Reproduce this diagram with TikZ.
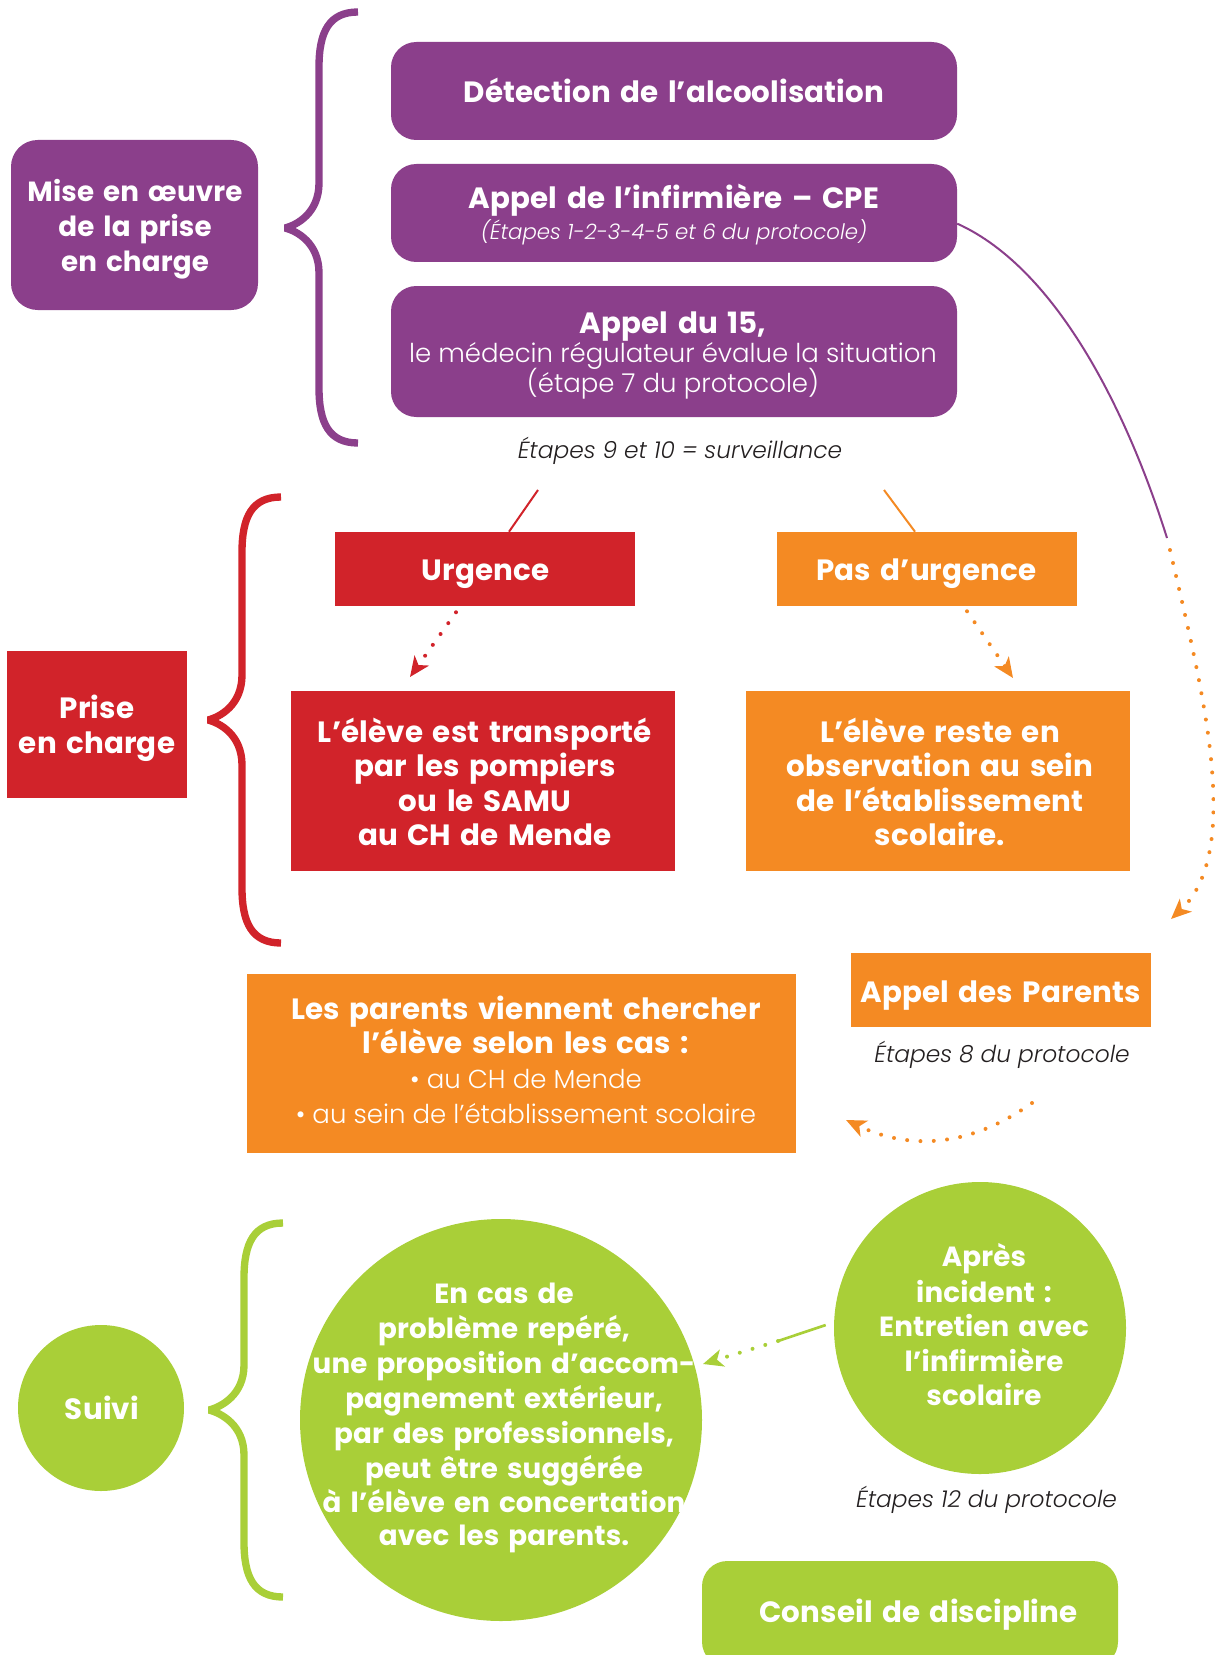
\documentclass[tikz,border=0pt]{standalone}
\usepackage{fontspec}
\usetikzlibrary{arrows.meta,calc}
\setmainfont{Poppins}
\newfontfamily\boldfam{Poppins}[LetterSpace=0.5, WordSpace=1.5]
\IfFontExistsTF{Poppins Light}{\newfontfamily\lightfam{Poppins Light}}{\newfontfamily\lightfam{Poppins}}
\definecolor{pur}{HTML}{8B3F8B}
\definecolor{rd}{HTML}{D1232A}
\definecolor{og}{HTML}{F48A23}
\definecolor{gr}{HTML}{A9CF38}
\definecolor{ink}{HTML}{231F20}
\newcommand\ftb{\boldfam\bfseries\fontsize{22}{26}\selectfont}
\newcommand\ftbs{\boldfam\bfseries\fontsize{20.8}{26}\selectfont}
\newcommand\ftl{\lightfam\fontsize{19.5}{23}\selectfont}
\newcommand\ftit{\lightfam\itshape\fontsize{17.5}{20}\selectfont}
\newcommand\ftsub{\lightfam\itshape\fontsize{16}{18}\selectfont}
\tikzset{
  pbox/.style={fill=pur, rounded corners=19pt, inner sep=0pt},
  rbox/.style={fill=rd, inner sep=0pt},
  obox/.style={fill=og, inner sep=0pt},
  gcirc/.style={circle, fill=gr, inner sep=0pt},
  gbox/.style={fill=gr, rounded corners=19pt, inner sep=0pt},
  wt/.style={text=white, inner sep=0pt, anchor=base, font=\ftb},
  ws/.style={wt, font=\ftbs},
  wl/.style={text=white, inner sep=0pt, anchor=base, font=\ftl},
  lab/.style={text=ink, inner sep=0pt, anchor=base, font=\ftit},
  brace/.style={line width=5.5pt, line join=bevel},
  dots/.style={line width=3pt, line cap=round, dash pattern=on 0pt off 10pt},
  arrowtip/.style={-{Stealth[length=15pt,width=13pt,inset=4pt]}},
  thin/.style={line width=1.5pt}
}
\begin{document}
\begin{tikzpicture}[x=0.75pt,y=-0.75pt]
\useasboundingbox (0,0) rectangle (1214,1655);

% ---------- braces ----------
\draw[pur, brace] (358,12) .. controls (329,12) and (319,32) .. (319,67) -- (319,183)
  .. controls (319,213) and (297,225) .. (285,228) .. controls (297,231) and (319,243) .. (319,273)
  -- (319,388) .. controls (319,423) and (329,443) .. (358,443);
\draw[rd, brace] (281,497) .. controls (252,497) and (242,517) .. (242,552) -- (242,675)
  .. controls (242,705) and (220,717) .. (208,720) .. controls (220,723) and (242,735) .. (242,765)
  -- (242,888) .. controls (242,923) and (252,943) .. (281,943);
\draw[gr, brace] (283,1223) .. controls (254,1223) and (244,1243) .. (244,1278) -- (244,1365)
  .. controls (244,1395) and (221,1407) .. (209,1410) .. controls (221,1413) and (244,1425) .. (244,1455)
  -- (244,1542) .. controls (244,1577) and (254,1597) .. (283,1597);

% ---------- shapes ----------
\node[pbox, rounded corners=20pt, minimum width=185.25pt, minimum height=127.5pt] (mise) at (134.5,225) {};
\node[pbox, minimum width=424.5pt, minimum height=73.5pt] (det) at (674,91) {};
\node[pbox, minimum width=424.5pt, minimum height=73.5pt] (ainf) at (674,213) {};
\node[pbox, minimum width=424.5pt, minimum height=98.25pt] (a15) at (674,351.5) {};
\node[rbox, minimum width=225pt, minimum height=55.5pt] (urg) at (485,569) {};
\node[obox, minimum width=225pt, minimum height=55.5pt] (pdu) at (927,569) {};
\node[rbox, minimum width=135pt, minimum height=110.25pt] (prise) at (97,724.5) {};
\node[rbox, minimum width=288pt, minimum height=135pt] (trans) at (483,781) {};
\node[obox, minimum width=288pt, minimum height=135pt] (obs) at (938,781) {};
\node[obox, minimum width=225pt, minimum height=55.5pt] (apar) at (1001,990) {};
\node[obox, minimum width=411.75pt, minimum height=134.25pt] (parents) at (521.5,1063.5) {};
\node[gcirc, minimum size=124.5pt] (suivi) at (101,1408) {};
\node[gcirc, minimum size=301.5pt] (bigc) at (501,1420) {};
\node[gcirc, minimum size=219pt] (apres) at (980,1328) {};
\node[gbox, minimum width=312pt, minimum height=79.5pt] (conseil) at (910,1614) {};

% ---------- texts ----------
\node[ws] (tm1) at (135,202) {Mise en œuvre};
\node[ws] (tm2) at (135,237) {de la prise};
\node[ws] (tm3) at (135,272) {en charge};
\node[wt] (tdet) at (674,103) {Détection de l’alcoolisation};
\node[wt] (tinf) at (674,209) {Appel de l’infirmière – CPE};
\node[wl, font=\ftsub] (tinf2) at (674,239) {(Étapes 1-2-3-4-5 et 6 du protocole)};
\node[wt] (t15) at (673,333) {Appel du 15,};
\node[wl] (t15b) at (673,362) {le médecin régulateur évalue la situation};
\node[wl] (t15c) at (673,392) {(étape 7 du protocole)};
\node[lab] (et910) at (680,458) {Étapes 9 et 10 = surveillance};
\node[wt] (turg) at (485.5,580) {Urgence};
\node[wt] (tpdu) at (926.5,580) {Pas d’urgence};
\node[wt] (tpr1) at (97,718) {Prise};
\node[wt] (tpr2) at (97,753) {en charge};
\node[wt] (ttr1) at (485,742) {L’élève est transporté};
\node[wt] (ttr2) at (485,776) {par les pompiers};
\node[wt] (ttr3) at (485,811) {ou le SAMU};
\node[wt] (ttr4) at (485,845) {au CH de Mende};
\node[wt] (tob1) at (940,742) {L’élève reste en};
\node[wt] (tob2) at (940,776) {observation au sein};
\node[wt] (tob3) at (940,811) {de l’établissement};
\node[wt] (tob4) at (940,845) {scolaire.};
\node[wt] (tapar) at (1000.5,1002) {Appel des Parents};
\node[lab] (et8) at (1002,1062) {Étapes 8 du protocole};
\node[wt] (tpa1) at (526,1019) {Les parents viennent chercher};
\node[wt] (tpa2) at (526,1053) {l’élève selon les cas :};
\node[wl] (tpa3) at (526,1088) {• au CH de Mende};
\node[wl] (tpa4) at (526,1123) {• au sein de l’établissement scolaire};
\node[wt] (tsuivi) at (102,1419) {Suivi};
\node[ws] (tb1) at (504,1303) {En cas de};
\node[ws] (tb2) at (504,1338) {problème repéré,};
\node[ws] (tb3) at (504,1373) {une proposition d’accom-};
\node[ws] (tb4) at (504,1408) {pagnement extérieur,};
\node[ws] (tb5) at (504,1443) {par des professionnels,};
\node[ws] (tb6) at (504,1478) {peut être suggérée};
\node[ws] (tb7) at (504,1512) {à l’élève en concertation};
\node[ws] (tb8) at (504,1545) {avec les parents.};
\node[ws] (ta1) at (984,1266) {Après};
\node[ws] (ta2) at (984,1302) {incident :};
\node[ws] (ta3) at (984,1336) {Entretien avec};
\node[ws] (ta4) at (984,1371) {l’infirmière};
\node[ws] (ta5) at (984,1405) {scolaire};
\node[lab] (et12) at (986.5,1507) {Étapes 12 du protocole};
\node[wt] (tcons) at (918.5,1622) {Conseil de discipline};

% ---------- connectors ----------
\coordinate (pc1) at (1167,538);
\coordinate (pc2) at (1170,550);
\coordinate (pc3) at (1171,919);
\draw[pur, thin] ([yshift=-8pt]ainf.east) .. controls (1060,270) and (1130,420) .. (pc1);
\draw[og, dots, arrowtip] (pc2) .. controls (1200,680) and (1245,850) .. (pc3);

\coordinate (r0) at (538,490);
\coordinate (o0) at (884,490);
\draw[rd, thin] (r0) -- ($(urg.north)+(24,0)$);
\draw[og, thin] (o0) -- ($(pdu.north)+(-12,0)$);

\coordinate (rt) at (410,677);
\coordinate (ot) at (1013,678);
\draw[rd, dots, arrowtip] ($(urg.south)+(-29,6)$) -- (rt);
\draw[og, dots, arrowtip] ($(pdu.south)+(40,5)$) -- (ot);

\coordinate (pp0) at (1032,1103);
\coordinate (ppt) at (846,1120);
\draw[og, dots, arrowtip] (pp0) .. controls (980,1140) and (920,1155) .. (ppt);

\coordinate (g1) at (778,1341);
\coordinate (gt) at (703,1364);
\draw[gr, line width=2pt] ($(apres.west)+(-8,-3)$) -- (g1);
\draw[gr, dots, arrowtip] (g1) -- (gt);
\end{tikzpicture}
\end{document}
